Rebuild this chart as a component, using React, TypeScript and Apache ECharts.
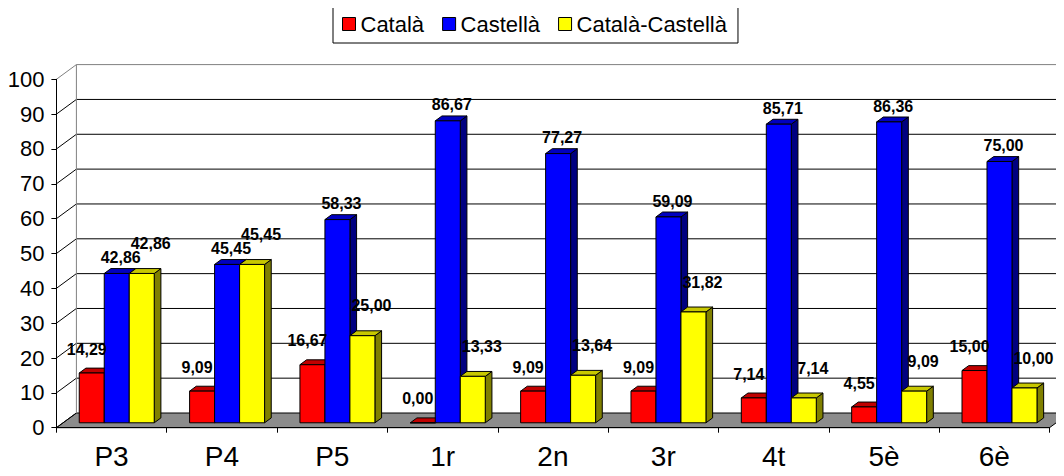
import React, { useEffect, useRef } from "react";
import * as echarts from "echarts";

// Percentages per school year
const categories = ["P3", "P4", "P5", "1r", "2n", "3r", "4t", "5è", "6è"];
const seriesNames = ["Català", "Castellà", "Català-Castellà"];
const catala = [14.29, 9.09, 16.67, 0.0, 9.09, 9.09, 7.14, 4.55, 15.0];
const castella = [42.86, 45.45, 58.33, 86.67, 77.27, 59.09, 85.71, 86.36, 75.0];
const catalaCastella = [42.86, 45.45, 25.0, 13.33, 13.64, 31.82, 7.14, 9.09, 10.0];
const yTicks = [0, 10, 20, 30, 40, 50, 60, 70, 80, 90, 100];

const seriesValues = [catala, castella, catalaCastella];

// 3D look: front / top / side shades for each series
const faceColors = [
  { front: "#FF0000", top: "#C00000", side: "#800000" },
  { front: "#0000FF", top: "#0000C0", side: "#000080" },
  { front: "#FFFF00", top: "#C8C800", side: "#808000" },
];

// depth of the floor (screen offset from front edge to back wall)
const DX = 20;
const DY = -14.7;
const BAR_FRAC = 0.2265;
const LABEL_DX = [-5, 4, 9];
const LABEL_GAP = [19, 11, 25];
const FONT = '"Liberation Sans", Arial, sans-serif';

const fmt = (v: number) => v.toFixed(2).replace(".", ",");

function barGeometry(api: any, idx: number, v: number, k: number) {
  const band = api.size([1, 0])[0];
  const base = api.coord([idx, 0]);
  const top = api.coord([idx, v])[1];
  const bw = band * BAR_FRAC;
  const left = base[0] - 1.5 * bw + k * bw - 1.5;
  const fx = DX / 3, fy = DY / 3, bx = (2 * DX) / 3, by = (2 * DY) / 3;
  return { bw, left, baseY: base[1], top, fx, fy, bx, by };
}

export default function App() {
  const ref = useRef<HTMLDivElement>(null);

  useEffect(() => {
    if (!ref.current) return;
    const chart = echarts.init(ref.current, undefined, { renderer: "svg" });

    const wallSeries = {
      type: "custom",
      name: "walls",
      z: 1,
      silent: true,
      data: [[0, 0]],
      renderItem: (_params: any, api: any) => {
        const band = api.size([1, 0])[0];
        const x0 = api.coord([0, 0])[0] - band / 2;
        const x1 = api.coord([categories.length - 1, 0])[0] + band / 2;
        const y0 = api.coord([0, 0])[1];
        const yTop = api.coord([0, 100])[1];
        const children: any[] = [];
        // back wall and side wall fill
        children.push({
          type: "polygon",
          shape: {
            points: [
              [x0, y0],
              [x0, yTop],
              [x0 + DX, yTop + DY],
              [x1 + DX, yTop + DY],
              [x1 + DX, y0 + DY],
            ],
          },
          style: { fill: "#FFFFFF", stroke: "none" },
        });
        // floor
        children.push({
          type: "polygon",
          shape: {
            points: [
              [x0, y0],
              [x1, y0],
              [x1 + DX, y0 + DY],
              [x0 + DX, y0 + DY],
            ],
          },
          style: { fill: "#8C8C8C", stroke: "#000", lineWidth: 1 },
        });
        yTicks.forEach((t) => {
          const y = api.coord([0, t])[1];
          const isTop = t === yTicks[yTicks.length - 1];
          const stroke = isTop ? "#808080" : "#000";
          children.push({
            type: "line",
            shape: { x1: x0, y1: y, x2: x0 + DX, y2: y + DY },
            style: { stroke, lineWidth: 1 },
          });
          if (t > 0) {
            children.push({
              type: "line",
              shape: { x1: x0 + DX, y1: y + DY, x2: x1 + DX, y2: y + DY },
              style: { stroke, lineWidth: 1 },
            });
          }
        });
        children.push({
          type: "line",
          shape: { x1: x0 + DX, y1: yTop + DY, x2: x0 + DX, y2: y0 + DY },
          style: { stroke: "#808080", lineWidth: 1 },
        });
        return { type: "group", children };
      },
    };

    const barSeries = seriesValues.map((vals, k) => ({
      type: "custom",
      name: seriesNames[k],
      z: 2,
      itemStyle: { color: faceColors[k].front },
      encode: { x: 0, y: 1 },
      data: vals.map((v, i) => [i, v]),
      renderItem: (_params: any, api: any) => {
        const idx = api.value(0);
        const v = api.value(1);
        const g = barGeometry(api, idx, v, k);
        const c = faceColors[k];
        const r = g.left + g.bw;
        return {
          type: "group",
          children: [
            {
              type: "polygon",
              shape: {
                points: [
                  [r + g.fx, g.top + g.fy],
                  [r + g.bx, g.top + g.by],
                  [r + g.bx, g.baseY + g.by],
                  [r + g.fx, g.baseY + g.fy],
                ],
              },
              style: { fill: c.side, stroke: "#000", lineWidth: 1 },
            },
            {
              type: "polygon",
              shape: {
                points: [
                  [g.left + g.fx, g.top + g.fy],
                  [r + g.fx, g.top + g.fy],
                  [r + g.bx, g.top + g.by],
                  [g.left + g.bx, g.top + g.by],
                ],
              },
              style: { fill: c.top, stroke: "#000", lineWidth: 1 },
            },
            {
              type: "rect",
              shape: {
                x: g.left + g.fx,
                y: g.top + g.fy,
                width: g.bw,
                height: g.baseY - g.top,
              },
              style: { fill: c.front, stroke: "#000", lineWidth: 1 },
            },
          ],
        };
      },
    }));

    const labelData: number[][] = [];
    seriesValues.forEach((vals, k) => vals.forEach((v, i) => labelData.push([i, v, k])));

    const labelSeries = {
      type: "custom",
      name: "labels",
      z: 4,
      silent: true,
      encode: { x: 0, y: 1 },
      data: labelData,
      renderItem: (_params: any, api: any) => {
        const idx = api.value(0);
        const v = api.value(1);
        const k = api.value(2);
        const g = barGeometry(api, idx, v, k);
        return {
          type: "text",
          x: g.left + g.bw / 2 + g.fx + LABEL_DX[k],
          y: g.top + g.by - LABEL_GAP[k],
          style: {
            text: fmt(v),
            fill: "#000",
            fontSize: 16,
            fontWeight: "bold",
            fontFamily: FONT,
            align: "center",
            verticalAlign: "middle",
          },
        };
      },
    };

    chart.setOption({
      animation: false,
      backgroundColor: "#FFFFFF",
      legend: {
        data: seriesNames,
        left: 333,
        top: 4,
        icon: "rect",
        itemWidth: 13,
        itemHeight: 13,
        itemGap: 18,
        padding: [9, 11, 8, 9],
        borderColor: "#000",
        borderWidth: 1,
        backgroundColor: "#FFFFFF",
        itemStyle: { borderColor: "#000", borderWidth: 1 },
        textStyle: { fontSize: 22, color: "#000", fontFamily: FONT },
      },
      grid: { left: 56.4, right: 14.5, top: 79.3, bottom: 48.3, containLabel: false },
      xAxis: {
        type: "category",
        data: categories,
        z: 10,
        axisLine: { lineStyle: { color: "#000", width: 1 } },
        axisTick: { show: true, length: 5, lineStyle: { color: "#000" } },
        axisLabel: { fontSize: 28, color: "#000", fontFamily: FONT, margin: 15 },
        splitLine: { show: false },
      },
      yAxis: {
        type: "value",
        min: 0,
        max: 100,
        interval: 10,
        z: 10,
        axisLine: { show: true, lineStyle: { color: "#000", width: 1 } },
        axisTick: { show: true, length: 5, lineStyle: { color: "#000" } },
        axisLabel: { fontSize: 22, color: "#000", fontFamily: FONT, margin: 12 },
        splitLine: { show: false },
      },
      series: [wallSeries, ...barSeries, labelSeries],
    });

    return () => chart.dispose();
  }, []);

  return <div ref={ref} style={{ width: 1064, height: 476, margin: -8 }} />;
}
